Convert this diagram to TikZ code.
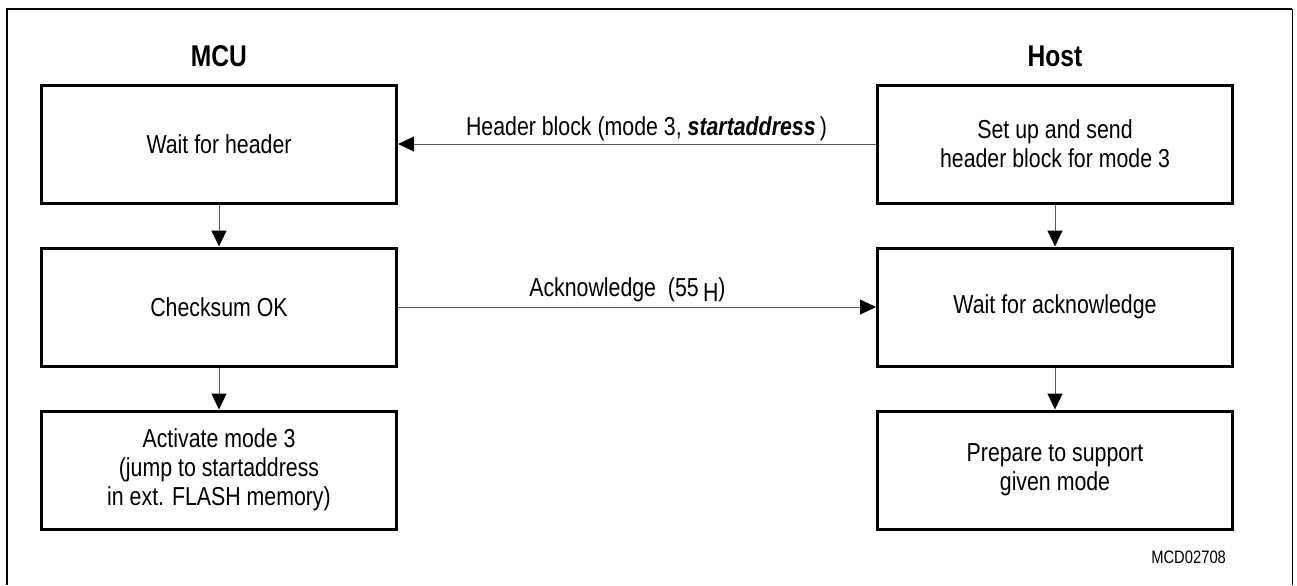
\documentclass[tikz,border=0pt]{standalone}
\usepackage{fontspec}
\setmainfont[FakeStretch=0.82]{Liberation Sans}
\usetikzlibrary{arrows.meta}
\begin{document}
\begin{tikzpicture}[x=0.5pt, y=-0.5pt,
  every node/.style={font=\fontsize{13}{14.5}\selectfont},
  box/.style={draw, line width=1.5pt, minimum width=177.5pt, minimum height=59pt, align=center, inner sep=2pt},
  head/.style={font=\fontsize{15}{17}\selectfont\bfseries, anchor=base},
  flow/.style={draw=black!65, line width=0.5pt, -{Triangle[length=8pt,width=7.5pt,color=black]}}]
  \useasboundingbox (0,0) rectangle (1297,585);
  % frame
  \draw[line width=1pt] (7,585) |- (1292,9);
  \draw[line width=0.5pt] (1292,9) -- (1292,585);
  % columns
  \node[head] (mcu) at (219,66) {MCU};
  \node[head] (host) at (1055,66) {Host};
  \node[box] (mcuwait) at (219,144) {Wait for header};
  \node[box] (mcuchk) at (219,307) {Checksum OK};
  \node[box] (mcuact) at (219,470) {Activate mode 3\\(jump to startaddress\\in ext. FLASH memory)};
  \node[box] (hostsend) at (1055,144) {Set up and send\\header block for mode 3};
  \node[box] (hostack) at (1055,307) {Wait for acknowledge};
  \node[box] (hostprep) at (1055,470) {Prepare to support\\given mode};
  % connectors
  \draw[flow] (mcuwait) -- (mcuchk);
  \draw[flow] (mcuchk) -- (mcuact);
  \draw[flow] (hostsend) -- (hostack);
  \draw[flow] (hostack) -- (hostprep);
  \draw[flow] (hostsend) -- node[pos=0.48, above, inner sep=1.4pt] {Header block (mode 3, \textbf{\textit{startaddress}}\,)} (mcuwait);
  \draw[flow] (mcuchk) -- node[pos=0.48, above, inner sep=2.1pt] {Acknowledge\ \ (55\,\raisebox{-2.5pt}{H})} (hostack);
  \node[font=\fontsize{9}{11}\selectfont, anchor=base east] (fig) at (1233,563) {MCD02708};
\end{tikzpicture}
\end{document}
